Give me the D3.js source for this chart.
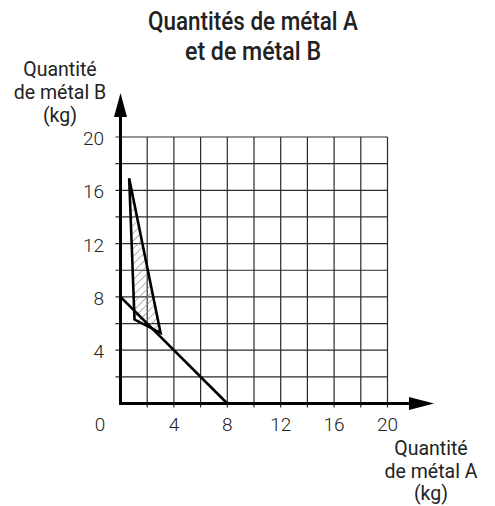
<!DOCTYPE html>
<html>
<head>
<meta charset="utf-8">
<script src="https://cdn.jsdelivr.net/npm/d3@7"></script>
<style>
  html, body { margin: 0; padding: 0; background: #fff; }
  svg { display: block; }
  text { font-family: Roboto, "Liberation Sans", sans-serif; fill: #222; }
</style>
</head>
<body>
<svg id="chart" width="495" height="506"></svg>
<script>
// ---- data ----
const titleLines = ["Quantités de métal A", "et de métal B"];
const yLabelLines = ["Quantité", "de métal B", "(kg)"];
const xLabelLines = ["Quantité", "de métal A", "(kg)"];
const gridValues = [2, 4, 6, 8, 10, 12, 14, 16, 18, 20];
const labelValues = [4, 8, 12, 16, 20];
const regionPoints = [[0.65, 16.9], [1.05, 6.3], [3.0, 5.3]];
const linePoints = [[0, 8], [8, 0]];

const svg = d3.select("#chart");
const x = d3.scaleLinear().domain([0, 20]).range([120.5, 387.5]);
const y = d3.scaleLinear().domain([0, 20]).range([403.5, 137]);

// hatch pattern
const defs = svg.append("defs");
const pat = defs.append("pattern")
  .attr("id", "hatch").attr("patternUnits", "userSpaceOnUse")
  .attr("width", 5.5).attr("height", 5.5)
  .attr("patternTransform", "rotate(45)");
pat.append("line").attr("x1", 0).attr("y1", 0).attr("x2", 0).attr("y2", 5.5)
  .attr("stroke", "#8a8a8a").attr("stroke-width", 1.3);

// grid
const g = svg.append("g");
g.selectAll("line.v").data(gridValues).join("line")
  .attr("x1", d => x(d)).attr("x2", d => x(d))
  .attr("y1", y(0) + 4).attr("y2", y(20))
  .attr("stroke", "#2a2a2a").attr("stroke-width", 1.2);
g.selectAll("line.h").data(gridValues).join("line")
  .attr("y1", d => y(d)).attr("y2", d => y(d))
  .attr("x1", x(0) - 5).attr("x2", x(20))
  .attr("stroke", "#2a2a2a").attr("stroke-width", 1.2);

// hatched region
const line = d3.line().x(d => x(d[0])).y(d => y(d[1]));
svg.append("path")
  .attr("d", line(regionPoints) + "Z")
  .attr("fill", "url(#hatch)")
  .attr("stroke", "#000").attr("stroke-width", 2.6)
  .attr("stroke-linejoin", "miter");

svg.append("path")
  .attr("d", line(linePoints))
  .attr("fill", "none").attr("stroke", "#000").attr("stroke-width", 2.6);

// axes
svg.append("line").attr("x1", x(0)).attr("x2", 412).attr("y1", y(0)).attr("y2", y(0))
  .attr("stroke", "#000").attr("stroke-width", 3);
svg.append("line").attr("x1", x(0)).attr("x2", x(0)).attr("y1", y(0) + 1.5).attr("y2", 114)
  .attr("stroke", "#000").attr("stroke-width", 3);
svg.append("path")
  .attr("d", `M${x(0) - 6.5},117 L${x(0)},93 L${x(0) + 6.5},117 Z`).attr("fill", "#000");
svg.append("path")
  .attr("d", `M409,${y(0) - 6.5} L434,${y(0)} L409,${y(0) + 6.5} Z`).attr("fill", "#000");

// tick labels
svg.selectAll("text.yl").data(labelValues).join("text")
  .attr("x", 104).attr("y", d => y(d) + 8)
  .attr("text-anchor", "end").attr("font-size", 19).attr("font-weight", 300).text(d => d);
svg.selectAll("text.xl").data(labelValues).join("text")
  .attr("x", d => x(d)).attr("y", 431)
  .attr("text-anchor", "middle").attr("font-size", 19).attr("font-weight", 300).text(d => d);
svg.append("text").attr("x", 100).attr("y", 431)
  .attr("text-anchor", "middle").attr("font-size", 19).attr("font-weight", 300).text(0);

// title
const titleWidths = [210, 136];
svg.selectAll("text.title").data(titleLines).join("text")
  .attr("x", 253).attr("y", (d, i) => 29.5 + i * 30)
  .attr("text-anchor", "middle").attr("font-size", 25).attr("font-weight", 500)
  .attr("textLength", (d, i) => titleWidths[i]).attr("lengthAdjust", "spacingAndGlyphs")
  .text(d => d);

// axis labels
svg.selectAll("text.ylab").data(yLabelLines).join("text")
  .attr("x", 60).attr("y", (d, i) => 76 + i * 23)
  .attr("text-anchor", "middle").attr("font-size", 19.5).text(d => d);
svg.selectAll("text.xlab").data(xLabelLines).join("text")
  .attr("x", 431).attr("y", (d, i) => 455 + i * 22.5)
  .attr("text-anchor", "middle").attr("font-size", 19.5).text(d => d);
</script>
</body>
</html>
